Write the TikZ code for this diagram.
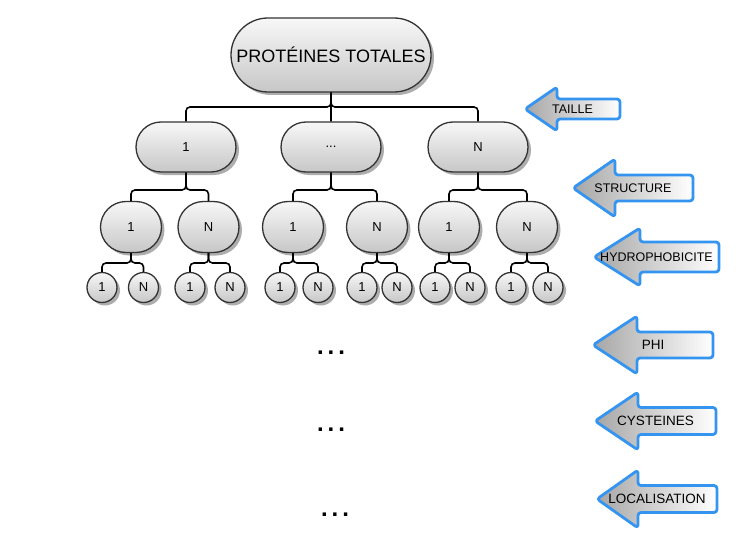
\documentclass[tikz,border=0pt]{standalone}
\usepackage{fontspec}
\setmainfont{Liberation Sans}
\usepackage{tikz}
\usetikzlibrary{shapes.misc, shadows}
\definecolor{critblue}{RGB}{52,148,240}
\begin{document}
\begin{tikzpicture}[x=1pt, y=-1pt,
  boite/.style={draw=black!80, line width=1.3pt, top color=black!3, bottom color=black!22, drop shadow={shadow xshift=3pt, shadow yshift=-3pt, fill=black!40, opacity=.8}, inner sep=0pt, font=\fontsize{13}{15}\selectfont},
  racine/.style={boite, rounded rectangle, minimum width=200pt, minimum height=74pt, font=\fontsize{18}{21}\selectfont},
  famille/.style={boite, rounded rectangle, minimum width=100pt, minimum height=50pt},
  sousfam/.style={boite, rounded rectangle, minimum width=61pt, minimum height=51pt},
  feuille/.style={boite, circle, minimum size=30pt},
  lien/.style={draw=black, line width=1.6pt, rounded corners=4pt},
  critere/.style={draw=critblue, line width=2.8pt, rounded corners=3pt, line join=round, left color=black!35, right color=white},
  crittxt/.style={inner sep=0pt, font=\fontsize{12.5}{14}\selectfont},
  points/.style={inner sep=0pt, font=\fontsize{24}{26}\bfseries}]
\useasboundingbox (0,0) rectangle (742,551);
\node[racine] (root) at (331,55) {PROTÉINES TOTALES};
\node[famille] (f1) at (186,147) {1};
\node[famille] (f2) at (331,147) {...};
\node[famille] (f3) at (478,147) {N};
\node[sousfam] (f1a) at (131,227) {1};
\node[sousfam] (f1b) at (208.5,227) {N};
\node[sousfam] (f2a) at (293,227) {1};
\node[sousfam] (f2b) at (377,227) {N};
\node[sousfam] (f3a) at (449,227) {1};
\node[sousfam] (f3b) at (527,227) {N};
\node[feuille] (f1a1) at (102,287.5) {1};
\node[feuille] (f1aN) at (143.5,287.5) {N};
\node[feuille] (f1b1) at (190,287.5) {1};
\node[feuille] (f1bN) at (230,287.5) {N};
\node[feuille] (f2a1) at (280,287.5) {1};
\node[feuille] (f2aN) at (318,287.5) {N};
\node[feuille] (f2b1) at (362,287.5) {1};
\node[feuille] (f2bN) at (397,287.5) {N};
\node[feuille] (f3a1) at (435,287.5) {1};
\node[feuille] (f3aN) at (470,287.5) {N};
\node[feuille] (f3b1) at (511,287.5) {1};
\node[feuille] (f3bN) at (548,287.5) {N};
\draw[lien] (root) -- (root |- 0,107) -| (f1);
\draw[lien] (root) -- (f2);
\draw[lien] (root) -- (root |- 0,107) -| (f3);
\draw[lien] (f1) -- (f1 |- 0,190) -| (f1a);
\draw[lien] (f1) -- (f1 |- 0,190) -| (f1b);
\draw[lien] (f2) -- (f2 |- 0,190) -| (f2a);
\draw[lien] (f2) -- (f2 |- 0,190) -| (f2b);
\draw[lien] (f3) -- (f3 |- 0,190) -| (f3a);
\draw[lien] (f3) -- (f3 |- 0,190) -| (f3b);
\draw[lien] (f1a) -- (f1a |- 0,263) -| (f1a1);
\draw[lien] (f1a) -- (f1a |- 0,263) -| (f1aN);
\draw[lien] (f1b) -- (f1b |- 0,263) -| (f1b1);
\draw[lien] (f1b) -- (f1b |- 0,263) -| (f1bN);
\draw[lien] (f2a) -- (f2a |- 0,263) -| (f2a1);
\draw[lien] (f2a) -- (f2a |- 0,263) -| (f2aN);
\draw[lien] (f2b) -- (f2b |- 0,263) -| (f2b1);
\draw[lien] (f2b) -- (f2b |- 0,263) -| (f2bN);
\draw[lien] (f3a) -- (f3a |- 0,263) -| (f3a1);
\draw[lien] (f3a) -- (f3a |- 0,263) -| (f3aN);
\draw[lien] (f3b) -- (f3b |- 0,263) -| (f3b1);
\draw[lien] (f3b) -- (f3b |- 0,263) -| (f3bN);
\node[points, anchor=base] (suite1) at (331,354) {.\kern4pt.\kern4pt.};
\node[points, anchor=base] (suite2) at (331,431) {.\kern4pt.\kern4pt.};
\node[points, anchor=base] (suite3) at (335,516) {.\kern4pt.\kern4pt.};
% criteres
\draw[critere] (525,109) -- (557,87) -- (557,99) -- (620,99) -- (620,119) -- (557,119) -- (557,131) -- cycle;
\node[crittxt] (taille) at (572.5,109) {TAILLE};
\draw[critere] (573,188) -- (615,159) -- (615,175) -- (693,175) -- (693,201) -- (615,201) -- (615,217) -- cycle;
\node[crittxt] (structure) at (633,188) {STRUCTURE};
\draw[critere] (594,257) -- (640,228) -- (640,242) -- (719,242) -- (719,272) -- (640,272) -- (640,286) -- cycle;
\node[crittxt] (hydro) at (656.5,257) {HYDROPHOBICITE};
\draw[critere] (593,345) -- (637,316) -- (637,332) -- (713,332) -- (713,358) -- (637,358) -- (637,374) -- cycle;
\node[crittxt, font=\fontsize{13.5}{15}\selectfont] (phi) at (653,345) {PHI};
\draw[critere] (595,421) -- (638,392) -- (638,407.5) -- (716,407.5) -- (716,434.5) -- (638,434.5) -- (638,450) -- cycle;
\node[crittxt, font=\fontsize{13.5}{15}\selectfont] (cysteines) at (655.5,421) {CYSTEINES};
\draw[critere] (597,499) -- (638,470) -- (638,485.5) -- (717,485.5) -- (717,512.5) -- (638,512.5) -- (638,528) -- cycle;
\node[crittxt, font=\fontsize{13.5}{15}\selectfont] (localisation) at (657,499) {LOCALISATION};
\end{tikzpicture}
\end{document}
